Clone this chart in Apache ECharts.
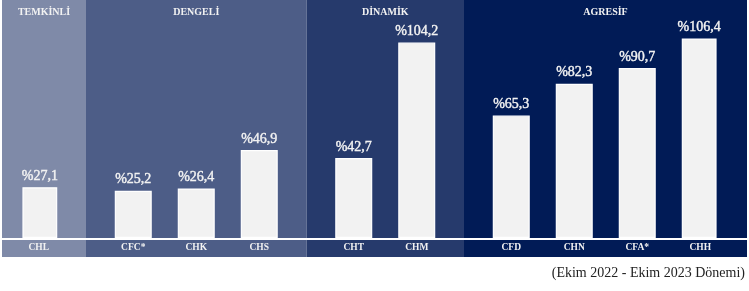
<!DOCTYPE html>
<html>
<head>
<meta charset="utf-8">
<script src="https://cdn.jsdelivr.net/npm/echarts@6/dist/echarts.min.js"></script>
<style>
  html, body { margin: 0; padding: 0; background: #fff; }
  #chart { width: 749px; height: 291px; }
</style>
</head>
<body>
<div id="chart"></div>
<script>
// fund codes and returns (%), grouped by risk profile
var groupNames = ['TEMKİNLİ', 'DENGELİ', 'DİNAMİK', 'AGRESİF'];
var groupSizes = [1, 3, 2, 4];
var groupColors = ['#7f8aa8', '#4d5d87', '#263a6c', '#011b56'];
var funds = ['CHL', 'CFC*', 'CHK', 'CHS', 'CHT', 'CHM', 'CFD', 'CHN', 'CFA*', 'CHH'];
var returns = [27.1, 25.2, 26.4, 46.9, 42.7, 104.2, 65.3, 82.3, 90.7, 106.4];
var footnote = '(Ekim 2022 - Ekim 2023 Dönemi)';

var SERIF = '"Liberation Serif", "DejaVu Serif", serif';

// build the category axis with blank spacer slots: one inside a group, two between groups
var axisCats = [];
var barData = [];
var groupSlots = []; // [firstSlot, lastSlot] per group
var k = 0;
groupSizes.forEach(function (n, g) {
    if (g > 0) { axisCats.push(''); barData.push('-'); axisCats.push(''); barData.push('-'); }
    var first = axisCats.length;
    for (var i = 0; i < n; i++) {
        if (i > 0) { axisCats.push(''); barData.push('-'); }
        axisCats.push(funds[k]);
        barData.push(returns[k]);
        k++;
    }
    groupSlots.push([first, axisCats.length - 1]);
});

var chart = echarts.init(document.getElementById('chart'));
chart.setOption({
    animation: false,
    grid: { left: 23, right: 33, top: 13, bottom: 53 },
    xAxis: {
        type: 'category',
        data: axisCats,
        axisLine: { show: false },
        axisTick: { show: false },
        axisLabel: {
            interval: 0,
            margin: 5,
            color: '#f2f2f2',
            fontFamily: SERIF,
            fontWeight: 'bold',
            fontSize: 9.5
        }
    },
    yAxis: {
        type: 'value',
        min: 0,
        max: 120,
        show: false,
        splitLine: { show: false }
    },
    series: [{
        type: 'bar',
        data: barData,
        barWidth: 37,
        itemStyle: { color: '#f2f2f2', borderColor: '#ffffff', borderWidth: 1.2 },
        label: {
            show: true,
            position: 'top',
            distance: 4,
            color: '#f2f2f2',
            fontFamily: SERIF,
            fontSize: 14,
            textBorderColor: '#f2f2f2',
            textBorderWidth: 0.4,
            formatter: function (p) { return '%' + String(p.value).replace('.', ','); }
        }
    }]
});

// background bands, group titles, baseline and footnote
var bandTop = 0, bandBottom = 257, bandLeft = 2, bandRight = 747;
var px = function (slot) { return chart.convertToPixel({ xAxisIndex: 0 }, slot); };
var bounds = [bandLeft];
for (var g = 0; g < groupSlots.length - 1; g++) {
    bounds.push((px(groupSlots[g][1]) + px(groupSlots[g + 1][0])) / 2);
}
bounds.push(bandRight);
var baseY = chart.convertToPixel({ yAxisIndex: 0 }, 0);

var graphics = [];
groupNames.forEach(function (name, g) {
    graphics.push({
        type: 'rect', z: -10, silent: true,
        shape: { x: bounds[g], y: bandTop, width: bounds[g + 1] - bounds[g], height: bandBottom - bandTop },
        style: { fill: groupColors[g] }
    });
    graphics.push({
        type: 'text', z: 10, silent: true,
        x: (bounds[g] + bounds[g + 1]) / 2, y: 12,
        style: {
            text: name, fill: '#f2f2f2', font: 'bold 10px ' + SERIF,
            align: 'center', verticalAlign: 'middle'
        }
    });
});
graphics.push({
    type: 'line', z: 5, silent: true,
    shape: { x1: bandLeft, y1: baseY + 1, x2: bandRight, y2: baseY + 1 },
    style: { stroke: '#ffffff', lineWidth: 2 }
});
graphics.push({
    type: 'text', z: 10, silent: true,
    x: 745, y: 273,
    style: { text: footnote, fill: '#222', font: '14px ' + SERIF, align: 'right', verticalAlign: 'middle' }
});
chart.setOption({ graphic: graphics });
</script>
</body>
</html>
